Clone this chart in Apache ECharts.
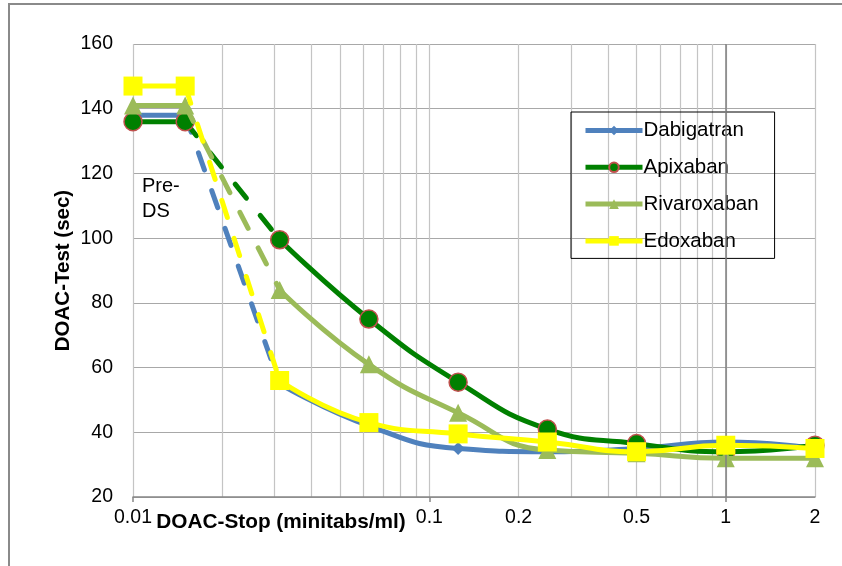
<!DOCTYPE html>
<html>
<head>
<meta charset="utf-8">
<script src="https://cdn.jsdelivr.net/npm/echarts@6/dist/echarts.min.js"></script>
<style>
  html, body { margin: 0; padding: 0; background: #ffffff; }
  #chart { width: 842px; height: 566px; }
</style>
</head>
<body>
<div id="chart"></div>
<script>
// Concentrations (minitabs/ml). The two pre-DS points sit left of the dilution series.
const preDsDose = [0.01, 0.015];
const doses = [0.03125, 0.0625, 0.125, 0.25, 0.5, 1, 2];

// DOAC-Test clotting times (sec): two pre-DS values, then one value per dose
const dabigatran  = [138, 138, 55, 42, 35, 34, 35, 37, 35];
const apixaban    = [136, 136, 99.5, 75, 55.5, 41, 36.5, 34, 36];
const rivaroxaban = [141, 141, 84, 61, 46, 34.5, 33.5, 32, 32];
const edoxaban    = [147, 147, 56, 43, 39.5, 37, 34, 36, 35];

// Axis ticks
const xTickLabels = [0.01, 0.1, 0.2, 0.5, 1, 2];
const xMajorTicks = [0.01, 0.1, 1];
const yMin = 20, yMax = 160, yStep = 20;

const FONT = 'Liberation Sans, Arial, sans-serif';
const LINE_W = 5;

// Log-scale grid lines at 1..9 of every decade
const xGridValues = [];
[0.01, 0.1].forEach(function (dec) {
  for (let m = 1; m <= 9; m++) xGridValues.push(+(dec * m).toFixed(4));
});
xGridValues.push(1, 2);

const drugs = [
  { name: 'Dabigatran',  values: dabigatran,  color: '#4F81BD', symbol: 'diamond',  size: 13, border: '#4F81BD', bw: 0 },
  { name: 'Apixaban',    values: apixaban,    color: '#008000', symbol: 'circle',   size: 18, border: '#C0504D', bw: 1.5 },
  { name: 'Rivaroxaban', values: rivaroxaban, color: '#9BBB59', symbol: 'triangle', size: 18, border: '#9BBB59', bw: 0 },
  { name: 'Edoxaban',    values: edoxaban,    color: '#FFFF00', symbol: 'rect',     size: 19, border: '#FFFF00', bw: 0 }
];

const series = [];
drugs.forEach(function (d, k) {
  const itemStyle = { color: d.color, borderColor: d.border, borderWidth: d.bw };
  // smooth curve over the dilution series
  const main = {
    name: d.name, type: 'line', smooth: 0.5, clip: false,
    symbol: d.symbol, symbolSize: d.size, showSymbol: true,
    lineStyle: { color: d.color, width: LINE_W },
    itemStyle: itemStyle,
    data: doses.map(function (x, i) { return [x, d.values[i + 2]]; }),
    z: 2 + k
  };
  if (k === 0) {
    main.markLine = {
      silent: true, symbol: 'none', label: { show: false },
      lineStyle: { color: '#7F7F7F', width: 1.5, type: 'solid' },
      data: [{ xAxis: 1 }]
    };
  }
  series.push(main);
  // pre-DS pair
  series.push({
    name: d.name, type: 'line', clip: false,
    symbol: d.symbol, symbolSize: d.size,
    lineStyle: { color: d.color, width: LINE_W },
    itemStyle: itemStyle,
    data: preDsDose.map(function (x, i) { return [x, d.values[i]]; }),
    z: 2 + k
  });
  // dashed link from pre-DS to first dilution
  series.push({
    name: d.name, type: 'line', clip: false,
    symbol: 'none',
    lineStyle: { color: d.color, width: LINE_W, type: [18, 22], cap: 'round' },
    data: [[preDsDose[1], d.values[1]], [doses[0], d.values[2]]],
    z: 2 + k
  });
});

const chart = echarts.init(document.getElementById('chart'), null, { renderer: 'canvas' });
chart.setOption({
  animation: false,
  backgroundColor: '#ffffff',
  textStyle: { fontFamily: FONT },
  grid: { left: 133, right: 27, top: 44, bottom: 69 },
  legend: {
    orient: 'vertical', left: 571, top: 112,
    data: drugs.map(function (d) { return d.name; }),
    itemWidth: 57, itemHeight: 12, itemGap: 15.8,
    padding: [8, 16, 7, 12],
    borderColor: '#000000', borderWidth: 1,
    lineStyle: { width: 5 },
    textStyle: { fontSize: 20.5, color: '#000000', fontFamily: FONT, padding: [0, 0, 0, -4] },
    selectedMode: false
  },
  xAxis: [{
    type: 'log', logBase: 10, min: 0.01, max: 2,
    name: 'DOAC-Stop (minitabs/ml)', nameLocation: 'middle', nameGap: 15, nameMoveOverlap: false,
    nameTextStyle: { fontWeight: 'bold', fontSize: 20.8, color: '#000000', fontFamily: FONT, padding: [0, 386, 0, 0] },
    axisLine: { show: true, lineStyle: { color: '#868686', width: 1.5 } },
    axisTick: { show: false, customValues: xGridValues },
    axisLabel: { customValues: xTickLabels, fontSize: 19.5, color: '#000000', margin: 11, fontFamily: FONT,
      formatter: function (v) { return String(+v.toPrecision(3)); } },
    splitLine: { show: true, lineStyle: { color: '#C4C4C4', width: 1.2 } }
  }, {
    type: 'log', logBase: 10, min: 0.01, max: 2, position: 'bottom',
    axisLine: { show: false },
    axisTick: { show: true, customValues: xMajorTicks, length: 5, lineStyle: { color: '#868686', width: 1.5 } },
    axisLabel: { show: false },
    splitLine: { show: false }
  }],
  yAxis: {
    type: 'value', min: yMin, max: yMax, interval: yStep,
    name: 'DOAC-Test (sec)', nameLocation: 'middle', nameGap: 59, nameMoveOverlap: false,
    nameTextStyle: { fontWeight: 'bold', fontSize: 20.5, color: '#000000', fontFamily: FONT },
    axisLine: { show: false },
    axisTick: { show: false },
    axisLabel: { fontSize: 19.5, color: '#000000', margin: 20, fontFamily: FONT },
    splitLine: { show: true, lineStyle: { color: '#A8A8A8', width: 1.2 } }
  },
  graphic: [
    { type: 'rect', z: -10, silent: true,
      shape: { x: 9, y: 4, width: 900, height: 700 },
      style: { fill: 'none', stroke: '#8A8A8A', lineWidth: 2 } },
    { type: 'text', left: 142, top: 174, silent: true,
      style: { text: 'Pre-\nDS', fontSize: 20, fontFamily: FONT, fill: '#000000', lineHeight: 25 } }
  ],
  series: series
});
</script>
</body>
</html>
